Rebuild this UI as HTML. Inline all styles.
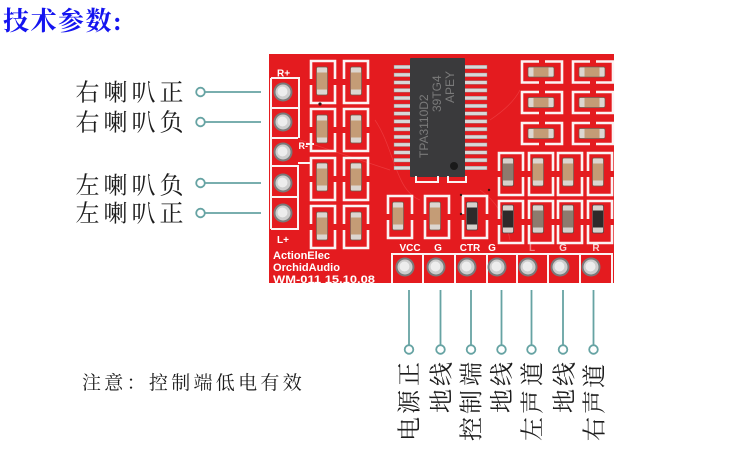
<!DOCTYPE html>
<html><head><meta charset="utf-8">
<style>
html,body{margin:0;padding:0;background:#fff;}
svg{display:block;}
.lab{font-family:"Liberation Serif","Noto Serif CJK SC",serif;font-size:24px;fill:#1c1c1c;}
.pcbt{font-family:"Liberation Sans",sans-serif;font-weight:bold;fill:#fff;}
.ict{font-family:"Liberation Sans",sans-serif;font-size:12px;fill:#7a7a7a;}
</style></head><body>
<svg width="750" height="462" viewBox="0 0 750 462" xmlns="http://www.w3.org/2000/svg">
<defs>
 <g id="fv"><path d="M-12,-3V-21H12V-3M-12,3V21H12V3" fill="none" stroke="#fbf3f3" stroke-width="2.6"/></g>
 <g id="fh"><path d="M-3,-10.5H-20V10.5H-3M3,-10.5H20V10.5H3" fill="none" stroke="#fbf3f3" stroke-width="2.6"/></g>
 <g id="vc"><rect x="-5.5" y="-14" width="11" height="28" rx="1.5" fill="#dcd6d0" stroke="#6e5848" stroke-width="0.7"/><rect x="-5" y="-8.5" width="10" height="17" fill="#c49c76"/></g>
 <g id="vr"><rect x="-5.5" y="-14" width="11" height="28" rx="1.5" fill="#d6d1cc" stroke="#4a4040" stroke-width="0.7"/><rect x="-5" y="-8.5" width="10" height="17" fill="#2e2a2a"/></g>
 <g id="vg"><rect x="-5.5" y="-14" width="11" height="28" rx="1.5" fill="#d6d1cc" stroke="#5a4a40" stroke-width="0.7"/><rect x="-5" y="-8.5" width="10" height="17" fill="#8d7b6e"/></g>
 <g id="hc"><rect x="-13" y="-5" width="26" height="10" rx="1.5" fill="#dcd6d0" stroke="#6e5848" stroke-width="0.7"/><rect x="-7.5" y="-4.5" width="15" height="9" fill="#c49c76"/></g>
 <g id="pin"><circle r="9.5" fill="#7a7a7a"/><circle r="7.5" fill="#cdcdcd"/><circle r="5" cx="-0.5" cy="-0.5" fill="#ededed"/></g>
 <g id="ring"><circle r="4.3" fill="#fff" stroke="#66a3a3" stroke-width="1.8"/></g>
</defs>

<!-- Title -->
<text x="3" y="30" font-family="'Liberation Serif','Noto Serif CJK SC',serif" font-size="26" font-weight="bold" fill="#1414f0" letter-spacing="1.5">技术参数:</text>

<!-- Left labels -->
<text class="lab" x="75.5" y="100.5" letter-spacing="4">右喇叭正</text>
<text class="lab" x="75.5" y="130.5" letter-spacing="4">右喇叭负</text>
<text class="lab" x="75.5" y="193.5" letter-spacing="4">左喇叭负</text>
<text class="lab" x="75.5" y="221.5" letter-spacing="4">左喇叭正</text>

<g stroke="#66a3a3" stroke-width="1.8">
 <line x1="205" y1="92" x2="261" y2="92"/>
 <line x1="205" y1="122" x2="261" y2="122"/>
 <line x1="205" y1="183" x2="261" y2="183"/>
 <line x1="205" y1="213" x2="261" y2="213"/>
</g>
<use href="#ring" x="200.5" y="92"/>
<use href="#ring" x="200.5" y="122"/>
<use href="#ring" x="200.5" y="183"/>
<use href="#ring" x="200.5" y="213"/>

<!-- PCB -->
<rect x="269" y="54" width="345" height="229" fill="#e41b1f"/>
<g fill="none" stroke="#f0474a" stroke-width="0.7" opacity="0.7">
 <path d="M300,140 C330,150 360,160 390,170"/>
 <path d="M375,120 C395,150 395,190 420,200"/>
 <path d="M490,120 C505,110 515,100 520,90"/>
 <path d="M480,190 C495,200 505,215 510,240"/>
</g>

<!-- left header silkscreen -->
<g stroke="#fbf3f3" stroke-width="2" fill="none">
 <path d="M271,78V229"/>
 <path d="M271,78H299V138"/>
 <path d="M271,108H298"/>
 <path d="M271,138H298"/>
 <path d="M271,166H298V229H271"/>
 <path d="M271,197H298"/>
 <path d="M298,163H311"/>
 <path d="M306,144H314"/>
</g>
<text class="pcbt" x="277" y="76.5" font-size="10">R+</text>
<text class="pcbt" x="298.5" y="149" font-size="9">R-</text>
<text class="pcbt" x="277" y="243" font-size="10">L+</text>
<use href="#pin" x="283" y="92"/>
<use href="#pin" x="283" y="122"/>
<use href="#pin" x="283" y="152"/>
<use href="#pin" x="283" y="183"/>
<use href="#pin" x="283" y="213"/>

<!-- left grid -->
<use href="#fv" x="323" y="82"/><use href="#fv" x="356" y="82"/>
<use href="#fv" x="323" y="130"/><use href="#fv" x="356" y="130"/>
<use href="#fv" x="323" y="179"/><use href="#fv" x="356" y="179"/>
<use href="#fv" x="323" y="227"/><use href="#fv" x="356" y="227"/>
<use href="#vc" x="322" y="81"/><use href="#vc" x="356" y="81"/>
<use href="#vc" x="322" y="129"/><use href="#vc" x="356" y="129"/>
<use href="#vc" x="322" y="177"/><use href="#vc" x="356" y="177"/>
<use href="#vc" x="322" y="226"/><use href="#vc" x="356" y="226"/>

<!-- IC -->
<g fill="#d8d8d8" stroke="#8a8a8a" stroke-width="0.4">
 <rect x="394" y="65.2" width="17" height="3.6"/><rect x="394" y="73" width="17" height="3.6"/>
 <rect x="394" y="80.7" width="17" height="3.6"/><rect x="394" y="88.5" width="17" height="3.6"/>
 <rect x="394" y="96.3" width="17" height="3.6"/><rect x="394" y="104.1" width="17" height="3.6"/>
 <rect x="394" y="111.8" width="17" height="3.6"/><rect x="394" y="119.6" width="17" height="3.6"/>
 <rect x="394" y="127.4" width="17" height="3.6"/><rect x="394" y="135.1" width="17" height="3.6"/>
 <rect x="394" y="142.9" width="17" height="3.6"/><rect x="394" y="150.7" width="17" height="3.6"/>
 <rect x="394" y="158.4" width="17" height="3.6"/><rect x="394" y="166.2" width="17" height="3.6"/>
 <rect x="464" y="65.2" width="23" height="3.6"/><rect x="464" y="73" width="23" height="3.6"/>
 <rect x="464" y="80.7" width="23" height="3.6"/><rect x="464" y="88.5" width="23" height="3.6"/>
 <rect x="464" y="96.3" width="23" height="3.6"/><rect x="464" y="104.1" width="23" height="3.6"/>
 <rect x="464" y="111.8" width="23" height="3.6"/><rect x="464" y="119.6" width="23" height="3.6"/>
 <rect x="464" y="127.4" width="23" height="3.6"/><rect x="464" y="135.1" width="23" height="3.6"/>
 <rect x="464" y="142.9" width="23" height="3.6"/><rect x="464" y="150.7" width="23" height="3.6"/>
 <rect x="464" y="158.4" width="23" height="3.6"/><rect x="464" y="166.2" width="23" height="3.6"/>
</g>
<rect x="410" y="58" width="55" height="119" rx="1" fill="#3a3a3c"/>
<circle cx="454" cy="166" r="4" fill="#1a1a1a"/>
<text class="ict" transform="translate(428,158) rotate(-90)" font-size="12.5">TPA3110D2</text>
<text class="ict" transform="translate(441,112) rotate(-90)" font-size="12.5">39TG4</text>
<text class="ict" transform="translate(454,103) rotate(-90)" font-size="12.5">APEY</text>
<g stroke="#fbf3f3" stroke-width="2" fill="none">
 <path d="M416,176V182H438V176"/>
 <path d="M448,176V182H466V176"/>
</g>

<!-- right top -->
<use href="#fh" x="542" y="72"/><use href="#fh" x="593" y="72"/>
<use href="#fh" x="542" y="102.5"/><use href="#fh" x="593" y="102.5"/>
<use href="#fh" x="542" y="133.5"/><use href="#fh" x="593" y="133.5"/>
<use href="#hc" x="541" y="72"/><use href="#hc" x="592" y="72"/>
<use href="#hc" x="541" y="102.5"/><use href="#hc" x="592" y="102.5"/>
<use href="#hc" x="541" y="133.5"/><use href="#hc" x="592" y="133.5"/>

<!-- right middle -->
<use href="#fv" x="511" y="174"/><use href="#fv" x="541" y="174"/><use href="#fv" x="570" y="174"/><use href="#fv" x="600" y="174"/>
<use href="#fv" x="511" y="222"/><use href="#fv" x="541" y="222"/><use href="#fv" x="570" y="222"/><use href="#fv" x="600" y="222"/>
<use href="#vg" x="508" y="172"/><use href="#vc" x="538" y="172"/><use href="#vc" x="568" y="172"/><use href="#vc" x="598" y="172"/>
<use href="#vr" x="508" y="219"/><use href="#vg" x="538" y="219"/><use href="#vg" x="568" y="219"/><use href="#vr" x="598" y="219"/>

<!-- bottom middle -->
<use href="#fv" x="400" y="217"/><use href="#fv" x="437" y="217"/><use href="#fv" x="475" y="217"/>
<use href="#vc" x="398" y="216"/><use href="#vc" x="435" y="216"/><use href="#vr" x="472" y="216"/>

<!-- vias -->
<g fill="#3a1010">
 <circle cx="320" cy="104" r="1.6"/><circle cx="461" cy="195" r="1.2"/>
 <circle cx="461" cy="214" r="1.2"/><circle cx="489" cy="190" r="1.2"/>
</g>

<!-- bottom labels -->
<g class="pcbt" font-size="10" text-anchor="middle">
 <text x="410" y="251">VCC</text>
 <text x="438" y="251">G</text>
 <text x="470" y="251">CTR</text>
 <text x="492" y="251">G</text>
 <text x="532" y="251" opacity="0.45">L</text>
 <text x="563" y="251" opacity="0.8">G</text>
 <text x="596" y="251" opacity="0.8">R</text>
</g>

<!-- bottom pin boxes -->
<g stroke="#fbf3f3" stroke-width="2" fill="none">
 <path d="M392,283V254H612V283"/>
 <path d="M423,254V283M455,254V283M487,254V283M517,254V283M548,254V283M580,254V283"/>
</g>
<use href="#pin" x="405" y="267"/><use href="#pin" x="436" y="267"/><use href="#pin" x="467" y="267"/>
<use href="#pin" x="497" y="267"/><use href="#pin" x="528" y="267"/><use href="#pin" x="560" y="267"/>
<use href="#pin" x="591" y="267"/>

<!-- bottom-left PCB text -->
<text class="pcbt" x="273" y="259" font-size="11" textLength="57" lengthAdjust="spacingAndGlyphs">ActionElec</text>
<text class="pcbt" x="273" y="271" font-size="11" textLength="67" lengthAdjust="spacingAndGlyphs">OrchidAudio</text>
<text class="pcbt" x="273" y="283" font-size="11" textLength="102" lengthAdjust="spacingAndGlyphs">WM-011 15.10.08</text>

<!-- bottom connector lines -->
<g stroke="#66a3a3" stroke-width="1.8">
 <line x1="409" y1="290" x2="409" y2="345"/>
 <line x1="440.5" y1="290" x2="440.5" y2="345"/>
 <line x1="471" y1="290" x2="471" y2="345"/>
 <line x1="501.5" y1="290" x2="501.5" y2="345"/>
 <line x1="531.5" y1="290" x2="531.5" y2="345"/>
 <line x1="563" y1="290" x2="563" y2="345"/>
 <line x1="593.5" y1="290" x2="593.5" y2="345"/>
</g>
<use href="#ring" x="409" y="349.5"/><use href="#ring" x="440.5" y="349.5"/>
<use href="#ring" x="471" y="349.5"/><use href="#ring" x="501.5" y="349.5"/>
<use href="#ring" x="531.5" y="349.5"/><use href="#ring" x="563" y="349.5"/>
<use href="#ring" x="593.5" y="349.5"/>

<!-- vertical labels (rotated, read bottom to top) -->
<g class="lab" text-anchor="middle">
 <text transform="translate(409,429) rotate(-90)" y="8.5">电</text>
 <text transform="translate(409,402) rotate(-90)" y="8.5">源</text>
 <text transform="translate(409,374) rotate(-90)" y="8.5">正</text>

 <text transform="translate(441,401) rotate(-90)" y="8.5">地</text>
 <text transform="translate(441,374) rotate(-90)" y="8.5">线</text>

 <text transform="translate(471,429) rotate(-90)" y="8.5">控</text>
 <text transform="translate(471,402) rotate(-90)" y="8.5">制</text>
 <text transform="translate(471,374) rotate(-90)" y="8.5">端</text>

 <text transform="translate(501.5,401) rotate(-90)" y="8.5">地</text>
 <text transform="translate(501.5,374) rotate(-90)" y="8.5">线</text>

 <text transform="translate(532,429) rotate(-90)" y="8.5">左</text>
 <text transform="translate(532,402) rotate(-90)" y="8.5">声</text>
 <text transform="translate(532,374) rotate(-90)" y="8.5">道</text>

 <text transform="translate(564,401) rotate(-90)" y="8.5">地</text>
 <text transform="translate(564,374) rotate(-90)" y="8.5">线</text>

 <text transform="translate(594,429) rotate(-90)" y="8.5">右</text>
 <text transform="translate(594,402) rotate(-90)" y="8.5">声</text>
 <text transform="translate(594,376) rotate(-90)" y="8.5">道</text>
</g>

<!-- note -->
<text x="82" y="389" font-family="'Liberation Serif','Noto Serif CJK SC',serif" font-size="19" fill="#1c1c1c" letter-spacing="3.3">注意：控制端低电有效</text>
</svg>
</body></html>
